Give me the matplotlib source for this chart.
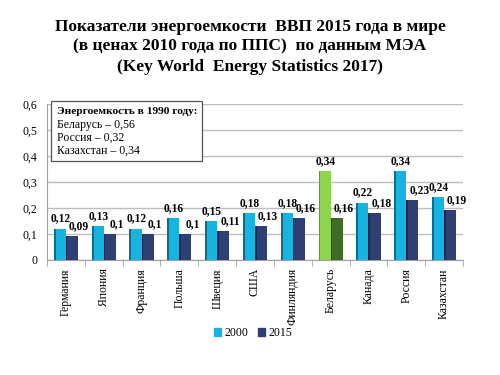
import numpy as np
import matplotlib
matplotlib.use("Agg")
import matplotlib.pyplot as plt
from matplotlib.patches import Patch, Rectangle

"""
Энергоемкость ВВП по странам, 2000 и 2015 (данные МЭА).
"""

countries = ["Германия", "Япония", "Франция", "Польша", "Швеция", "США",
             "Финляндия", "Беларусь", "Канада", "Россия", "Казахстан"]
values_2000 = [0.12, 0.13, 0.12, 0.16, 0.15, 0.18, 0.18, 0.34, 0.22, 0.34, 0.24]
values_2015 = [0.09, 0.10, 0.10, 0.10, 0.11, 0.13, 0.16, 0.16, 0.18, 0.23, 0.19]
y_ticks = [0, 0.1, 0.2, 0.3, 0.4, 0.5, 0.6]

note_title = "Энергоемкость в 1990 году:"
note_lines = ["Беларусь – 0,56", "Россия – 0,32", "Казахстан – 0,34"]

title = ("Показатели энергоемкости  ВВП 2015 года в мире\n"
         "(в ценах 2010 года по ППС)  по данным МЭА\n"
         "(Key World  Energy Statistics 2017)")

plt.rcParams['font.family'] = ['Liberation Serif', 'DejaVu Serif']

c2000, c2015 = "#17B4E2", "#2E3F74"
side2000, side2015 = "#0C6E8C", "#1B2750"
highlight = "Беларусь"
cg2000, cg2015 = "#8ED44C", "#3E6C22"
sideg2000, sideg2015 = "#5E9A2C", "#284816"


def fmt(v):
    s = ("%.2f" % v).rstrip("0").rstrip(".")
    return s.replace(".", ",")


fig = plt.figure(figsize=(5, 3.75), dpi=100)
ax = fig.add_axes([0.094, 0.307, 0.832, 0.416])

x = np.arange(len(countries))
w = 0.32
cols_a = [cg2000 if c == highlight else c2000 for c in countries]
cols_b = [cg2015 if c == highlight else c2015 for c in countries]
side_a = [sideg2000 if c == highlight else side2000 for c in countries]
side_b = [sideg2015 if c == highlight else side2015 for c in countries]

xb = x + 0.0
ax.bar(xb - w / 2, values_2000, w, color=cols_a, zorder=3)
ax.bar(xb + w / 2, values_2015, w, color=cols_b, zorder=3)
# darker left faces for a bit of the 3D look
ax.bar(xb - w, values_2000, 0.05, align="edge", color=side_a, zorder=4)
ax.bar(xb, values_2015, 0.04, align="edge", color=side_b, zorder=4)

for i in range(len(countries)):
    ax.annotate(fmt(values_2000[i]), (xb[i] - w / 2, values_2000[i]),
                xytext=(0.5, 3), textcoords="offset points", ha="center",
                va="bottom", fontsize=8.3, fontweight="bold")
    ax.annotate(fmt(values_2015[i]), (xb[i] + w / 2, values_2015[i]),
                xytext=(5, 3), textcoords="offset points", ha="center",
                va="bottom", fontsize=8.3, fontweight="bold")

ax.set_ylim(0, 0.6)
ax.set_xlim(-0.5, len(countries) - 0.5)
ax.set_yticks(y_ticks)
ax.set_yticklabels([fmt(t) if t else "0" for t in y_ticks], fontsize=8.5)
ax.yaxis.grid(True, color="#BDBDBD", lw=1, zorder=0)
ax.tick_params(axis="y", length=0, pad=7)

ax.set_xticks(x)
ax.set_xticklabels(countries, rotation=90, fontsize=8.5)
ax.set_xticks(np.arange(len(countries) + 1) - 0.5, minor=True)
ax.tick_params(axis="x", which="major", length=0, pad=6)
ax.tick_params(axis="x", which="minor", length=4, color="#A0A0A0")

for s in ["top", "right"]:
    ax.spines[s].set_visible(False)
ax.spines["left"].set_color("#A0A0A0")
ax.spines["bottom"].set_color("#A0A0A0")

# note box
ax.add_patch(Rectangle((0.01, 0.635), 0.362, 0.385, transform=ax.transAxes,
                       fc="white", ec="#555555", lw=0.9, zorder=5,
                       clip_on=False))
ax.text(0.024, 0.949, note_title, transform=ax.transAxes, ha="left",
        va="center", fontsize=8.2, fontweight="bold", zorder=6)
for k, line in enumerate(note_lines):
    ax.text(0.024, 0.863 - k * 0.082, line, transform=ax.transAxes,
            ha="left", va="center", fontsize=8.5, zorder=6)

fig.text(0.5, 0.95, title, ha="center", va="top", fontsize=12.5,
         fontweight="bold", linespacing=1.33)

handles = [Patch(color=c2000, label="2000"), Patch(color=c2015, label="2015")]
fig.legend(handles=handles, loc="center", bbox_to_anchor=(0.506, 0.112),
           ncol=2, frameon=False, fontsize=8.5, handlelength=0.6,
           handleheight=0.6, handletextpad=0.3, columnspacing=0.8)

fig.savefig("out.png", dpi=100)
